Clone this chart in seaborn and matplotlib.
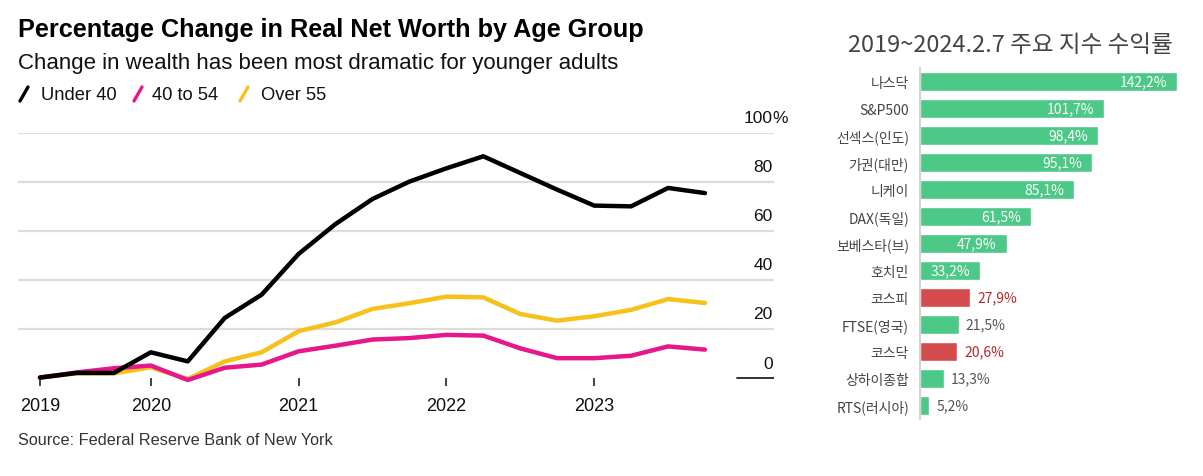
import matplotlib
matplotlib.use('Agg')
import matplotlib.pyplot as plt
import matplotlib.transforms as mtransforms
from matplotlib.lines import Line2D
import seaborn as sns
import pandas as pd

# ---- left chart data: quarterly % change in real net worth ----
quarters = [2019.25 + 0.25 * i for i in range(19)]
under_40 = [0.3, 2.2, 2.2, 10.6, 6.9, 24.6, 34.1, 50.7, 62.9, 73.1, 80.2, 85.6, 90.5,
            83.7, 76.9, 70.4, 70.1, 77.6, 75.5]
age_40_54 = [0.3, 2.4, 4.1, 5.2, -0.7, 4.3, 5.6, 11.0, 13.3, 15.8, 16.4, 17.7, 17.4,
             12.2, 8.2, 8.2, 9.2, 13.0, 11.7]
over_55 = [0.3, 2.0, 2.0, 4.5, -0.3, 6.9, 10.6, 19.2, 22.8, 28.3, 30.6, 33.3, 33.0,
           26.2, 23.5, 25.3, 27.9, 32.3, 30.7]
groups = ['Under 40', '40 to 54', 'Over 55']
year_ticks = [2019.25, 2020, 2021, 2022, 2023]
year_labels = ['2019', '2020', '2021', '2022', '2023']
y_ticks = [0, 20, 40, 60, 80, 100]

# ---- right chart data: index returns 2019 ~ 2024.2.7 ----
indices = ['나스닥', 'S&P500', '선섹스(인도)', '가권(대만)', '니케이', 'DAX(독일)',
           '보베스타(브)', '호치민', '코스피', 'FTSE(영국)', '코스닥', '상하이종합', 'RTS(러시아)']
returns = [142.2, 101.7, 98.4, 95.1, 85.1, 61.5, 47.9, 33.2, 27.9, 21.5, 20.6, 13.3, 5.2]
korean = ['코스피', '코스닥']

W, H = 1203, 477
fig = plt.figure(figsize=(W / 100, H / 100), dpi=100)
sns.set_style('white')
plt.rcParams['font.family'] = ['Liberation Sans', 'DejaVu Sans']

def fx(px):
    return px / W

def fy(py):
    return 1 - py / H

# ---------------- left: line chart ----------------
colors = {'Under 40': '#000000', '40 to 54': '#e5178a', 'Over 55': '#f5c11a'}
df = pd.DataFrame({
    't': quarters * 3,
    'value': under_40 + age_40_54 + over_55,
    'group': [g for g in groups for _ in quarters],
})

y0_px, y100_px = 379.3, 134.0
ppu = (y0_px - y100_px) / 100
ybot = -3
ax1 = fig.add_axes([fx(18), fy(y0_px - ybot * ppu), fx(774 - 18),
                    (y0_px - ybot * ppu - y100_px) / H])
sns.lineplot(data=df, x='t', y='value', hue='group', palette=colors,
             hue_order=['Over 55', '40 to 54', 'Under 40'], linewidth=3.2,
             legend=False, ax=ax1)
xppu = (705 - 40) / 4.5
ax1.set_xlim(2019.25 - 22 / xppu, 2023.75 + 69 / xppu)
ax1.set_ylim(ybot, 100)
for s in ax1.spines.values():
    s.set_visible(False)
ax1.set_xlabel('')
ax1.set_ylabel('')
ax1.set_xticks(year_ticks)
ax1.set_xticklabels(year_labels, fontsize=13, color='#111')
ax1.tick_params(axis='x', bottom=True, direction='in', length=6, width=1.3,
                color='#333', pad=8)
ax1.set_yticks(y_ticks)
ax1.tick_params(axis='y', length=0, labelleft=False)
ax1.grid(axis='y', color='#dcdcdc', linewidth=1.6)
ax1.grid(axis='x', visible=False)
ax1.get_ygridlines()[0].set_visible(False)
ax1.axhline(0, xmin=(737 - 18) / (774 - 18), xmax=1, color='#222', linewidth=1.3)
tr = mtransforms.blended_transform_factory(ax1.transAxes, ax1.transData)
for v in y_ticks:
    ax1.annotate(str(v), xy=(1.0, v), xycoords=tr, xytext=(-1, 11), textcoords='offset points',
                 ha='right', va='center', fontsize=12.5, color='#111')
ax1.annotate('%', xy=(1.0, 100), xycoords=tr, xytext=(-1, 11), textcoords='offset points',
             ha='left', va='center', fontsize=12.5, color='#111')

fig.text(fx(18), fy(30), 'Percentage Change in Real Net Worth by Age Group',
         fontsize=18.2, fontweight='bold', color='#000', va='center', ha='left')
fig.text(fx(18), fy(63), 'Change in wealth has been most dramatic for younger adults',
         fontsize=16, color='#111', va='center', ha='left')
leg_x = [(19, 41), (133, 152), (239, 261)]
for g, (sx, tx) in zip(groups, leg_x):
    fig.add_artist(Line2D([fx(sx + 1), fx(sx + 9)], [fy(102), fy(88)],
                          color=colors[g], linewidth=2.4, transform=fig.transFigure))
    fig.text(fx(tx), fy(95), g, fontsize=13.2, color='#111', va='center', ha='left')
fig.text(fx(18), fy(441), 'Source: Federal Reserve Bank of New York',
         fontsize=11.7, color='#333', va='center', ha='left')

# ---------------- right: bar chart ----------------
kr = ['Noto Sans CJK KR', 'DejaVu Sans']
green, red = '#4cc887', '#d44b4d'
bar_colors = [red if n in korean else green for n in indices]
ax2 = fig.add_axes([fx(920), fy(420), fx(270), 351 / H])
sns.barplot(x=returns, y=indices, hue=indices, palette=bar_colors, legend=False,
            width=0.72, orient='h', saturation=1, ax=ax2)
ax2.set_xlim(0, 270 / (257 / 142.2))
ax2.set_ylim(12.5, -0.5)
for k in ['top', 'right', 'bottom']:
    ax2.spines[k].set_visible(False)
ax2.spines['left'].set_color('#cfcfcf')
ax2.spines['left'].set_linewidth(1.3)
ax2.set_xticks([])
ax2.set_xlabel('')
ax2.set_ylabel('')
ax2.tick_params(axis='y', length=0, pad=8)
for lab in ax2.get_yticklabels():
    lab.set_fontfamily(kr)
    lab.set_fontsize(10)
    lab.set_color('#444')
for i, (n, v) in enumerate(zip(indices, returns)):
    txt = f'{v:.1f}'.replace('.', ',') + '%'
    if i < 8:
        ax2.annotate(txt, xy=(v, i), xytext=(-7, 0), textcoords='offset points',
                     ha='right', va='center', fontsize=10, color='white', family=kr)
    else:
        c = '#b02a2a' if n in korean else '#555'
        ax2.annotate(txt, xy=(v, i), xytext=(5, 0), textcoords='offset points',
                     ha='left', va='center', fontsize=10, color=c, family=kr)
fig.text(fx(1010), fy(45), '2019~2024.2.7 주요 지수 수익률', fontsize=17, color='#444',
         ha='center', va='center', family=kr)

fig.savefig('out.png', dpi=100)
